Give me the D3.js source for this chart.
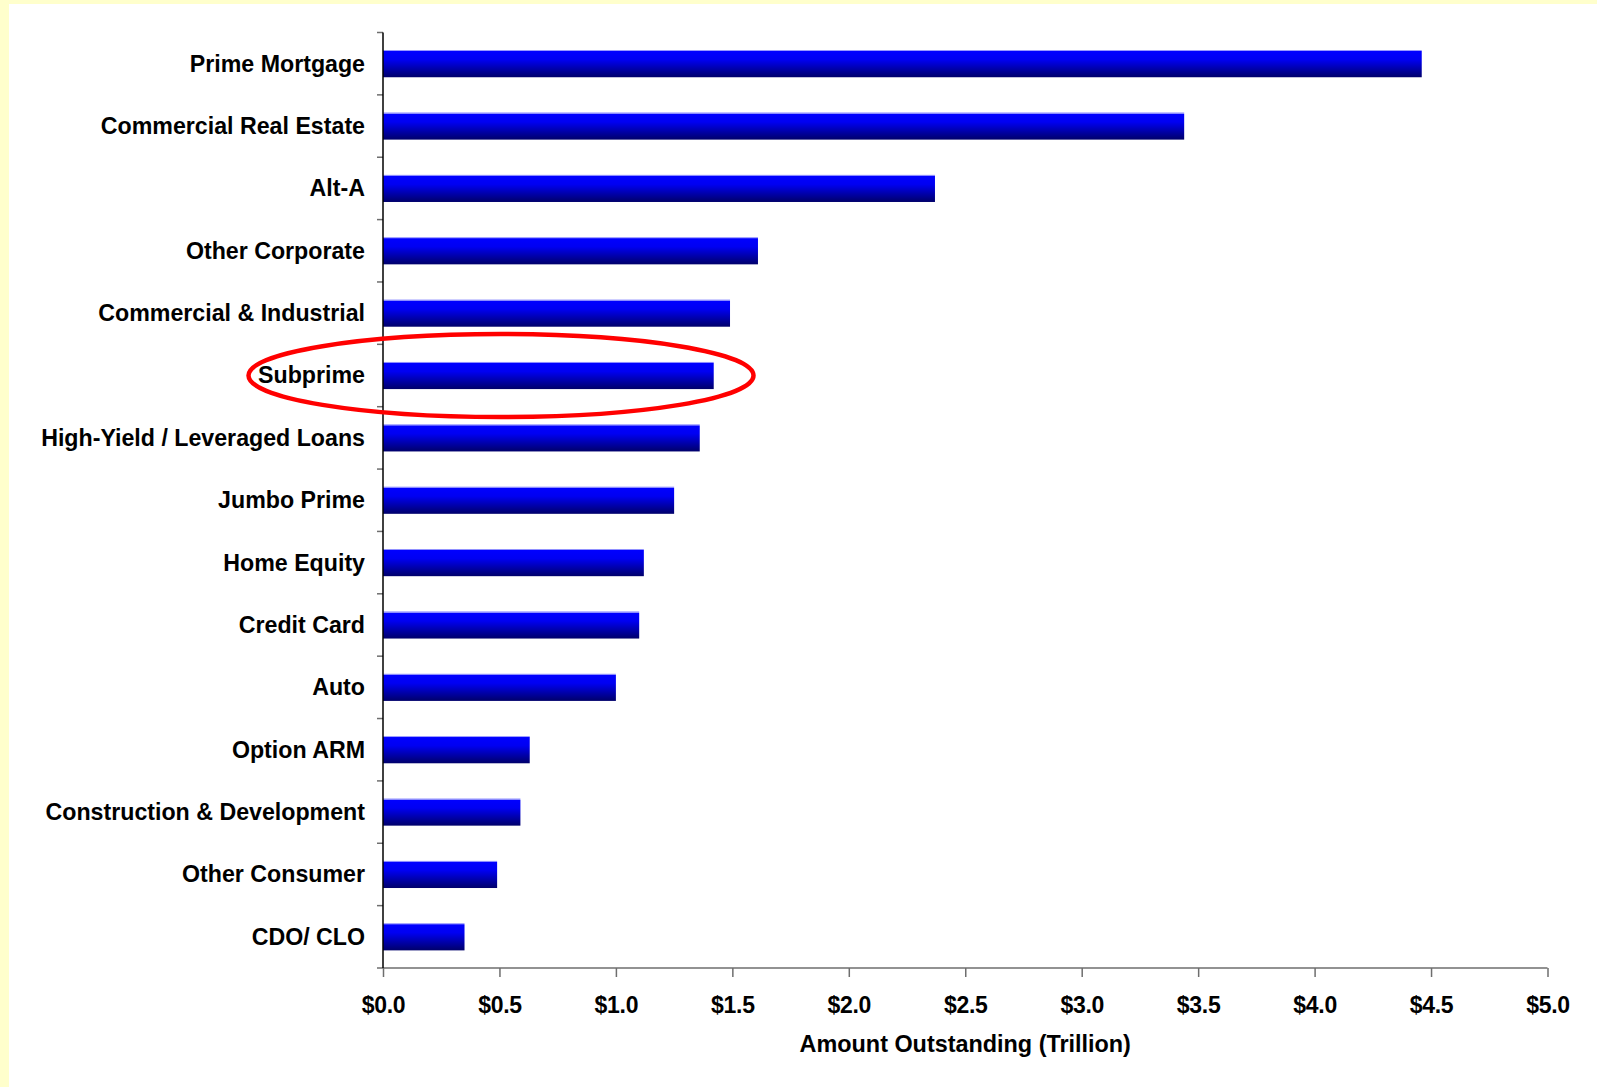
<!DOCTYPE html>
<html>
<head>
<meta charset="utf-8">
<script src="https://cdn.jsdelivr.net/npm/d3@7"></script>
<style>
  html, body { margin: 0; padding: 0; background: #ffffcc; }
  svg { display: block; }
  text { font-family: "Liberation Sans", Arial, sans-serif; font-weight: bold; fill: #000; }
</style>
</head>
<body>
<svg id="chart" width="1597" height="1087"></svg>
<script>
// Outstanding amounts by loan category, trillions of dollars
const categories = [
  "Prime Mortgage",
  "Commercial Real Estate",
  "Alt-A",
  "Other Corporate",
  "Commercial & Industrial",
  "Subprime",
  "High-Yield / Leveraged Loans",
  "Jumbo Prime",
  "Home Equity",
  "Credit Card",
  "Auto",
  "Option ARM",
  "Construction & Development",
  "Other Consumer",
  "CDO/ CLO"
];
const amounts = [4.46, 3.44, 2.37, 1.61, 1.49, 1.42, 1.36, 1.25, 1.12, 1.10, 1.00, 0.63, 0.59, 0.49, 0.35];
const xTicks = [0, 0.5, 1.0, 1.5, 2.0, 2.5, 3.0, 3.5, 4.0, 4.5, 5.0];
const xTitle = "Amount Outstanding (Trillion)";
const highlighted = "Subprime";

const W = 1597, H = 1087;
const plot = { left: 383, right: 1547.5, top: 32.5, bottom: 968 };

const svg = d3.select("#chart");

// page backdrop: pale yellow frame with white panel
svg.append("rect").attr("width", W).attr("height", H).attr("fill", "#ffffcc");
svg.append("rect").attr("x", 9).attr("y", 4).attr("width", W - 9).attr("height", H - 4).attr("fill", "#ffffff");

const x = d3.scaleLinear().domain([0, 5]).range([plot.left, plot.right]);
const pad = 0.565;
const y = d3.scaleBand().domain(categories).range([plot.top, plot.bottom])
  .paddingInner(pad).paddingOuter(pad / 2);

// vertical shading on bars: bright blue fading to navy
const defs = svg.append("defs");
const grad = defs.append("linearGradient").attr("id", "barFill")
  .attr("x1", 0).attr("y1", 0).attr("x2", 0).attr("y2", 1);
grad.append("stop").attr("offset", "0%").attr("stop-color", "#8c8cff");
grad.append("stop").attr("offset", "4%").attr("stop-color", "#8c8cff");
grad.append("stop").attr("offset", "5%").attr("stop-color", "#0000ff");
grad.append("stop").attr("offset", "35%").attr("stop-color", "#0000f2");
grad.append("stop").attr("offset", "100%").attr("stop-color", "#00006a");

// bars
svg.append("g").selectAll("rect")
  .data(categories)
  .join("rect")
  .attr("x", x(0))
  .attr("y", d => y(d))
  .attr("width", (d, i) => x(amounts[i]) - x(0))
  .attr("height", y.bandwidth())
  .attr("fill", "url(#barFill)");

// x axis
const xAxis = d3.axisBottom(x)
  .tickValues(xTicks)
  .tickSize(9)
  .tickFormat(d => "$" + d3.format(".1f")(d));
const gx = svg.append("g").attr("transform", `translate(0,${plot.bottom})`).call(xAxis);
gx.select(".domain").attr("stroke", "#6e6e6e").attr("stroke-width", 1.5)
  .attr("d", `M${plot.left - 6},0H${plot.right}`);
gx.selectAll(".tick line").attr("stroke", "#6e6e6e").attr("stroke-width", 1.5);
gx.selectAll(".tick text").attr("font-size", 23).attr("font-family", null)
  .attr("dy", null).attr("y", 45).attr("letter-spacing", -0.3);

svg.append("text")
  .attr("x", (plot.left + plot.right) / 2)
  .attr("y", 1052)
  .attr("text-anchor", "middle")
  .attr("font-size", 23.4)
  .text(xTitle);

// y axis: category boundary ticks and labels
const step = y.step();
const boundaries = d3.range(categories.length).map(i => plot.top + i * step);
svg.append("g").selectAll("line")
  .data(boundaries)
  .join("line")
  .attr("x1", plot.left - 6).attr("x2", plot.left)
  .attr("y1", d => d).attr("y2", d => d)
  .attr("stroke", "#6e6e6e").attr("stroke-width", 1.5);
svg.append("line")
  .attr("x1", plot.left).attr("x2", plot.left)
  .attr("y1", plot.top).attr("y2", plot.bottom)
  .attr("stroke", "#000").attr("stroke-width", 1.5);

svg.append("g").selectAll("text")
  .data(categories)
  .join("text")
  .attr("x", plot.left - 18)
  .attr("y", d => y(d) + y.bandwidth() / 2)
  .attr("dy", "0.34em")
  .attr("text-anchor", "end")
  .attr("font-size", 23.2)
  .text(d => d);

// red ring around the highlighted category
const hy = y(highlighted) + y.bandwidth() / 2;
svg.append("ellipse")
  .attr("cx", 501)
  .attr("cy", hy)
  .attr("rx", 252.5)
  .attr("ry", 41.5)
  .attr("fill", "none")
  .attr("stroke", "#ff0000")
  .attr("stroke-width", 4.5);
</script>
</body>
</html>
